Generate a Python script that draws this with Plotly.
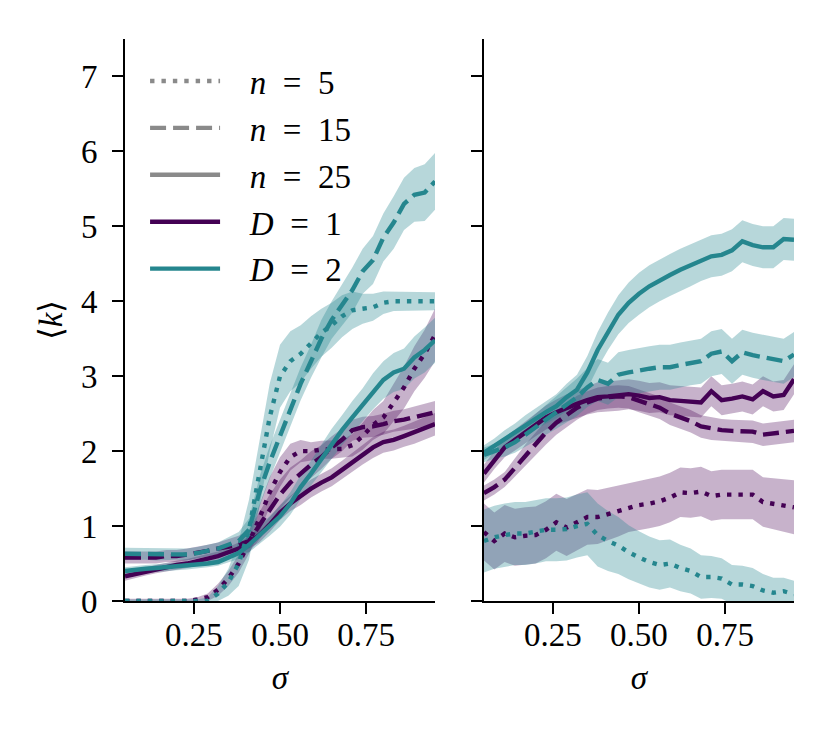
import plotly.graph_objects as go

# sigma grid shared by every curve
sigma = [0.05, 0.08, 0.11, 0.14, 0.17, 0.20, 0.23, 0.26, 0.29, 0.32, 0.35,
         0.38, 0.41, 0.44, 0.47, 0.50, 0.53, 0.56, 0.59, 0.62, 0.65, 0.68,
         0.71, 0.74, 0.77, 0.80, 0.83, 0.86, 0.89, 0.92, 0.95]

# left panel: mean <k> and half-width of the shaded band
left_d2_n5 = [0, 0, 0, 0, 0, 0, 0, 0, 0.0, 0.1, 0.25, 0.5, 0.95, 1.7, 2.45, 3.0,
              3.2, 3.3, 3.45, 3.58, 3.68, 3.8, 3.88, 3.9, 3.92, 3.98, 4.0, 4.0, 4.0, 4.0, 4.0]
left_d2_n5_err = [0.02, 0.02, 0.02, 0.02, 0.02, 0.02, 0.02, 0.02, 0.05, 0.1, 0.18, 0.3, 0.4,
                  0.45, 0.45, 0.42, 0.4, 0.38, 0.35, 0.32, 0.3, 0.28, 0.25, 0.2, 0.18, 0.15,
                  0.13, 0.12, 0.12, 0.12, 0.12]
left_d2_n15 = [0.63, 0.63, 0.63, 0.62, 0.62, 0.63, 0.62, 0.64, 0.67, 0.7, 0.75, 0.8, 0.95,
               1.45, 1.85, 2.2, 2.55, 2.9, 3.2, 3.5, 3.75, 3.95, 4.15, 4.4, 4.55, 4.85, 5.05,
               5.3, 5.42, 5.45, 5.6]
left_d2_n15_err = [0.08, 0.08, 0.08, 0.08, 0.08, 0.08, 0.08, 0.08, 0.08, 0.08, 0.1, 0.12, 0.15,
                   0.2, 0.22, 0.22, 0.22, 0.22, 0.22, 0.25, 0.25, 0.28, 0.3, 0.3, 0.32, 0.32,
                   0.35, 0.35, 0.36, 0.38, 0.38]
left_d2_n25 = [0.4, 0.42, 0.43, 0.44, 0.45, 0.46, 0.47, 0.48, 0.5, 0.52, 0.58, 0.64, 0.75,
               0.88, 1.0, 1.13, 1.3, 1.52, 1.7, 1.9, 2.1, 2.28, 2.45, 2.62, 2.8, 2.95, 3.05,
               3.1, 3.25, 3.35, 3.48]
left_d2_n25_err = [0.05, 0.05, 0.05, 0.05, 0.05, 0.05, 0.05, 0.05, 0.05, 0.05, 0.07, 0.08, 0.1,
                   0.12, 0.13, 0.14, 0.15, 0.16, 0.17, 0.18, 0.2, 0.2, 0.22, 0.22, 0.24, 0.25,
                   0.26, 0.27, 0.28, 0.3, 0.3]
left_d1_n5 = [0, 0, 0, 0, 0, 0, 0, 0.02, 0.05, 0.15, 0.3, 0.5, 0.78, 1.1, 1.45, 1.72, 1.92,
              2.0, 2.0, 2.02, 2.02, 2.03, 2.08, 2.2, 2.35, 2.45, 2.65, 2.85, 3.1, 3.3, 3.55]
left_d1_n5_err = [0.03, 0.03, 0.03, 0.03, 0.03, 0.03, 0.03, 0.03, 0.05, 0.08, 0.1, 0.12, 0.15,
                  0.18, 0.2, 0.2, 0.18, 0.15, 0.12, 0.12, 0.12, 0.12, 0.15, 0.18, 0.2, 0.22,
                  0.25, 0.28, 0.3, 0.32, 0.35]
left_d1_n15 = [0.58, 0.58, 0.58, 0.58, 0.6, 0.6, 0.62, 0.64, 0.67, 0.7, 0.72, 0.75, 0.8, 1.0,
               1.22, 1.42, 1.58, 1.7, 1.82, 1.92, 2.05, 2.15, 2.28, 2.32, 2.33, 2.36, 2.4,
               2.42, 2.45, 2.48, 2.52]
left_d1_n15_err = [0.08, 0.08, 0.08, 0.08, 0.08, 0.08, 0.08, 0.08, 0.08, 0.08, 0.1, 0.12, 0.15,
                   0.18, 0.2, 0.2, 0.2, 0.18, 0.18, 0.16, 0.15, 0.15, 0.14, 0.14, 0.14, 0.14,
                   0.14, 0.14, 0.15, 0.15, 0.15]
left_d1_n25 = [0.33, 0.36, 0.4, 0.43, 0.46, 0.48, 0.5, 0.53, 0.56, 0.6, 0.65, 0.7, 0.78, 0.88,
               1.02, 1.18, 1.3, 1.4, 1.5, 1.58, 1.65, 1.75, 1.85, 1.95, 2.05, 2.12, 2.15, 2.2,
               2.25, 2.3, 2.36]
left_d1_n25_err = [0.06, 0.06, 0.06, 0.06, 0.06, 0.06, 0.06, 0.06, 0.06, 0.06, 0.07, 0.08, 0.08,
                   0.1, 0.1, 0.1, 0.1, 0.12, 0.12, 0.12, 0.12, 0.12, 0.13, 0.13, 0.14, 0.14,
                   0.14, 0.14, 0.15, 0.15, 0.15]

# right panel
right_d2_n5 = [0.8, 0.85, 0.88, 0.9, 0.9, 0.92, 0.95, 0.95, 0.96, 1.0, 1.03, 0.88, 0.8, 0.74,
               0.65, 0.58, 0.52, 0.48, 0.5, 0.44, 0.4, 0.32, 0.32, 0.3, 0.22, 0.22, 0.2, 0.14,
               0.11, 0.13, 0.09]
right_d2_n5_err = [0.42, 0.42, 0.42, 0.42, 0.42, 0.42, 0.42, 0.42, 0.42, 0.42, 0.42, 0.42, 0.4,
                   0.38, 0.36, 0.35, 0.34, 0.33, 0.32, 0.31, 0.3, 0.29, 0.28, 0.27, 0.26, 0.25,
                   0.24, 0.22, 0.2, 0.18, 0.18]
right_d2_n15 = [1.95, 2.0, 2.05, 2.12, 2.22, 2.32, 2.42, 2.52, 2.62, 2.72, 2.85, 2.95, 2.9, 3.02,
                3.05, 3.08, 3.1, 3.12, 3.12, 3.15, 3.18, 3.2, 3.3, 3.33, 3.2, 3.32, 3.28, 3.25,
                3.22, 3.2, 3.29]
right_d2_n15_err = [0.1, 0.1, 0.12, 0.14, 0.16, 0.18, 0.2, 0.22, 0.24, 0.25, 0.26, 0.28, 0.28,
                    0.3, 0.3, 0.3, 0.3, 0.3, 0.3, 0.3, 0.3, 0.3, 0.3, 0.3, 0.3, 0.3, 0.3, 0.3,
                    0.3, 0.3, 0.3]
right_d2_n25 = [1.98, 2.07, 2.16, 2.25, 2.35, 2.43, 2.52, 2.6, 2.72, 2.82, 3.05, 3.35, 3.6,
                3.82, 3.98, 4.1, 4.2, 4.28, 4.35, 4.42, 4.48, 4.55, 4.6, 4.62, 4.68, 4.8, 4.75,
                4.72, 4.72, 4.83, 4.82]
right_d2_n25_err = [0.1, 0.1, 0.12, 0.12, 0.13, 0.14, 0.15, 0.16, 0.18, 0.2, 0.22, 0.24, 0.25,
                    0.26, 0.27, 0.28, 0.28, 0.28, 0.28, 0.28, 0.28, 0.28, 0.28, 0.28, 0.28, 0.28,
                    0.28, 0.28, 0.28, 0.28, 0.28]
right_d1_n5 = [0.92, 0.8, 0.9, 0.85, 0.87, 0.88, 0.95, 1.05, 0.98, 1.05, 1.12, 1.12, 1.16, 1.2,
               1.25, 1.28, 1.3, 1.33, 1.38, 1.45, 1.44, 1.46, 1.4, 1.42, 1.42, 1.42, 1.42, 1.32,
               1.3, 1.27, 1.25]
right_d1_n5_err = [0.38, 0.38, 0.38, 0.38, 0.38, 0.38, 0.38, 0.38, 0.38, 0.38, 0.37, 0.36, 0.35,
                   0.34, 0.33, 0.33, 0.33, 0.33, 0.33, 0.33, 0.33, 0.33, 0.33, 0.33, 0.33, 0.33,
                   0.33, 0.33, 0.34, 0.35, 0.36]
right_d1_n15 = [1.44, 1.52, 1.62, 1.78, 1.95, 2.1, 2.25, 2.38, 2.48, 2.58, 2.65, 2.7, 2.72, 2.73,
                2.72, 2.67, 2.62, 2.58, 2.5, 2.45, 2.4, 2.33, 2.3, 2.28, 2.27, 2.27, 2.26, 2.22,
                2.24, 2.25, 2.27]
right_d1_n15_err = [0.1, 0.1, 0.1, 0.12, 0.14, 0.15, 0.16, 0.16, 0.16, 0.16, 0.15, 0.15, 0.15,
                    0.15, 0.15, 0.15, 0.15, 0.15, 0.15, 0.15, 0.15, 0.15, 0.15, 0.15, 0.15, 0.15,
                    0.15, 0.15, 0.15, 0.15, 0.15]
right_d1_n25 = [1.7, 1.88, 2.05, 2.15, 2.25, 2.35, 2.45, 2.52, 2.58, 2.63, 2.68, 2.72, 2.73,
                2.74, 2.76, 2.74, 2.71, 2.72, 2.68, 2.67, 2.66, 2.65, 2.8, 2.68, 2.7, 2.73, 2.69,
                2.8, 2.73, 2.75, 2.96]
right_d1_n25_err = [0.12, 0.12, 0.13, 0.14, 0.15, 0.15, 0.16, 0.17, 0.18, 0.18, 0.19, 0.2, 0.2,
                    0.2, 0.2, 0.2, 0.2, 0.2, 0.2, 0.2, 0.2, 0.2, 0.2, 0.2, 0.2, 0.2, 0.2, 0.2,
                    0.2, 0.2, 0.2]

x_ticks = [0.25, 0.50, 0.75]
x_ticklabels = ['0.25', '0.50', '0.75']
y_ticks = [0, 1, 2, 3, 4, 5, 6, 7]

PURPLE = '#440154'
TEAL = '#25868e'
PURPLE_FILL = 'rgba(68,1,84,0.3)'
TEAL_FILL = 'rgba(37,134,142,0.33)'
GREY = '#8a8a8a'
LW = 4.4
DASHES = {5: '4.4px,7px', 15: '16px,7px', 25: 'solid'}
FONT = 'Liberation Serif'
FS = 33

panels = [
    ('x', 'y', [(left_d1_n5, left_d1_n5_err, 1, 5), (left_d1_n15, left_d1_n15_err, 1, 15),
                (left_d1_n25, left_d1_n25_err, 1, 25), (left_d2_n5, left_d2_n5_err, 2, 5),
                (left_d2_n15, left_d2_n15_err, 2, 15), (left_d2_n25, left_d2_n25_err, 2, 25)]),
    ('x2', 'y2', [(right_d1_n5, right_d1_n5_err, 1, 5), (right_d1_n15, right_d1_n15_err, 1, 15),
                  (right_d1_n25, right_d1_n25_err, 1, 25), (right_d2_n5, right_d2_n5_err, 2, 5),
                  (right_d2_n15, right_d2_n15_err, 2, 15), (right_d2_n25, right_d2_n25_err, 2, 25)]),
]

fig = go.Figure()

for xa, ya, curves in panels:
    # bands first so every line sits on top
    for mean, err, d, n in curves:
        upper = [m + e for m, e in zip(mean, err)]
        lower = [m - e for m, e in zip(mean, err)]
        fig.add_trace(go.Scatter(
            x=sigma + sigma[::-1], y=upper + lower[::-1],
            fill='toself', fillcolor=PURPLE_FILL if d == 1 else TEAL_FILL,
            line=dict(width=0), mode='lines', hoverinfo='skip', showlegend=False,
            xaxis=xa, yaxis=ya))
    for mean, err, d, n in curves:
        fig.add_trace(go.Scatter(
            x=sigma, y=mean, mode='lines',
            line=dict(color=PURPLE if d == 1 else TEAL, width=LW, dash=DASHES[n]),
            name='D=%d, n=%d' % (d, n), showlegend=False,
            xaxis=xa, yaxis=ya))

# legend entries (style keys only)
sp = '&nbsp;'
legend_items = [(sp * 3 + '<i>n</i> ' + sp + '= ' + sp + '5', GREY, DASHES[5]),
                (sp * 3 + '<i>n</i> ' + sp + '= ' + sp + '15', GREY, DASHES[15]),
                (sp * 3 + '<i>n</i> ' + sp + '= ' + sp + '25', GREY, 'solid'),
                (sp * 3 + '<i>D</i> ' + sp + '= ' + sp + '1', PURPLE, 'solid'),
                (sp * 3 + '<i>D</i> ' + sp + '= ' + sp + '2', TEAL, 'solid')]
for i, (label, col, dash) in enumerate(legend_items):
    fig.add_trace(go.Scatter(
        x=[None], y=[None], mode='lines', name=label, legendgroup='g%d' % i,
        line=dict(color=col, width=LW, dash=dash)))

axis_common = dict(showline=True, linecolor='black', linewidth=2, ticks='outside',
                   ticklen=11, tickwidth=2, tickcolor='black', showgrid=False, zeroline=False,
                   tickfont=dict(family=FONT, size=FS, color='black'))

fig.update_layout(
    width=830, height=732,
    margin=dict(l=117, r=44, t=31, b=139),
    paper_bgcolor='white', plot_bgcolor='white',
    font=dict(family=FONT, size=FS, color='black'),
    xaxis=dict(domain=[0, 0.4634], range=[0.05, 0.95], tickvals=x_ticks, ticktext=x_ticklabels,
               ticklabelstandoff=-8,
               title=dict(text='<i>σ</i>', font=dict(family=FONT, size=FS), standoff=14),
               **axis_common),
    xaxis2=dict(domain=[0.5366, 1], range=[0.05, 0.95], tickvals=x_ticks, ticktext=x_ticklabels,
                ticklabelstandoff=-8,
                title=dict(text='<i>σ</i>', font=dict(family=FONT, size=FS), standoff=14),
                anchor='y2', **axis_common),
    yaxis=dict(range=[0, 7.5], tickvals=y_ticks, ticklabelstandoff=8,
               title=dict(text='⟨<i>k</i>⟩', font=dict(family=FONT, size=FS), standoff=8),
               **axis_common),
    yaxis2=dict(range=[0, 7.5], tickvals=y_ticks, showticklabels=False, anchor='x2',
                matches='y', **axis_common),
    legend=dict(x=0.03, y=0.975, xanchor='left', yanchor='top', bgcolor='rgba(0,0,0,0)',
                font=dict(family=FONT, size=FS, color='black'), itemwidth=70,
                tracegroupgap=1),
    showlegend=True,
)

fig.write_html("out.html")
